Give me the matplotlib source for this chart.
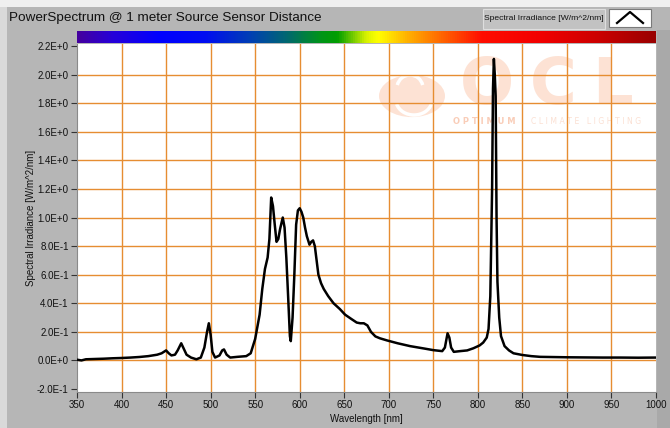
import numpy as np
import matplotlib.pyplot as plt
from matplotlib.colors import LinearSegmentedColormap
from matplotlib.patches import Rectangle, Circle, Arc
from matplotlib.lines import Line2D

# spectrum (wavelength in nm, irradiance in W/m^2/nm)
wavelength = [350, 355, 360, 370, 380, 390, 400, 410, 420, 430, 440, 445, 450, 453, 456,
              460, 463, 467, 470, 473, 478, 484, 489, 493, 496, 498, 500, 502, 505, 510,
              513, 515, 518, 522, 530, 540, 545, 550, 555, 558, 561, 564, 566, 568, 570,
              572, 574, 576, 578, 581, 583, 585, 587, 589, 590, 592, 594, 596, 598, 600,
              602, 604, 606, 608, 611, 613, 615, 617, 619, 621, 624, 627, 632, 638, 645,
              651, 658, 664, 668, 672, 676, 680, 685, 690, 698, 710, 724, 740, 750, 760,
              763, 766, 768, 770, 773, 780, 788, 795, 802, 806, 810, 812, 814, 816, 817,
              818, 819, 820, 821, 822, 824, 826, 830, 835, 840, 850, 860, 870, 880, 900,
              920, 940, 960, 980, 1000]
irradiance = [0.005, 0.0, 0.008, 0.01, 0.012, 0.015, 0.017, 0.02, 0.024, 0.03, 0.04, 0.05,
              0.07, 0.05, 0.035, 0.04, 0.07, 0.12, 0.08, 0.04, 0.02, 0.008, 0.02, 0.09, 0.2,
              0.26, 0.18, 0.06, 0.02, 0.035, 0.07, 0.077, 0.04, 0.02, 0.025, 0.03, 0.05, 0.15,
              0.32, 0.5, 0.64, 0.72, 0.85, 1.14, 1.08, 0.95, 0.83, 0.85, 0.92, 1.0, 0.93,
              0.72, 0.45, 0.17, 0.135, 0.3, 0.6, 0.95, 1.05, 1.065, 1.04, 1.0, 0.93, 0.87,
              0.81, 0.83, 0.84, 0.8, 0.7, 0.6, 0.54, 0.5, 0.45, 0.4, 0.36, 0.32, 0.29, 0.265,
              0.26, 0.26, 0.245, 0.2, 0.168, 0.155, 0.14, 0.12, 0.1, 0.083, 0.072, 0.065,
              0.09, 0.19, 0.16, 0.09, 0.06, 0.065, 0.07, 0.085, 0.105, 0.125, 0.16, 0.22,
              0.45, 1.2, 1.9, 2.11, 2.0, 1.85, 1.0, 0.55, 0.3, 0.17, 0.1, 0.07, 0.05, 0.038,
              0.03, 0.025, 0.024, 0.022, 0.021, 0.02, 0.02, 0.019, 0.02]

x_ticks = [350, 400, 450, 500, 550, 600, 650, 700, 750, 800, 850, 900, 950, 1000]
y_ticks = [-0.2, 0.0, 0.2, 0.4, 0.6, 0.8, 1.0, 1.2, 1.4, 1.6, 1.8, 2.0, 2.2]
y_tick_labels = ['-2.0E-1', '0.0E+0', '2.0E-1', '4.0E-1', '6.0E-1', '8.0E-1', '1.0E+0',
                 '1.2E+0', '1.4E+0', '1.6E+0', '1.8E+0', '2.0E+0', '2.2E+0']

FONT = ['Liberation Sans', 'DejaVu Sans']
W, H = 670, 428
PANEL = '#b6b6b6'
GRID = '#e68d32'


def fx(px):
    return px / W


def fy(py):
    return 1 - py / H


fig = plt.figure(figsize=(6.7, 4.28), dpi=100)
fig.patch.set_facecolor(PANEL)

# window chrome around the graph
fig.patches.append(Rectangle((0, fy(7)), 1, 7 / H, transform=fig.transFigure,
                             facecolor='#f0f0f0', edgecolor='none', zorder=-2))
fig.patches.append(Rectangle((0, 0), fx(7), fy(7), transform=fig.transFigure,
                             facecolor='#d9d9d9', edgecolor='none', zorder=-2))
fig.patches.append(Rectangle((fx(657), 0), 1 - fx(657), fy(30), transform=fig.transFigure,
                             facecolor='#a9a9a9', edgecolor='none', zorder=-2))

fig.text(fx(9), fy(18), 'PowerSpectrum @ 1 meter Source Sensor Distance', family=FONT,
         fontsize=9.7, color='#111111', va='center', ha='left')

# plot legend box
fig.patches.append(Rectangle((fx(483), fy(29)), fx(122), 20 / H, transform=fig.transFigure,
                             facecolor='#c2c2c2', edgecolor='#dedede', lw=0.8, zorder=1))
fig.text(fx(544), fy(18.5), 'Spectral Irradiance [W/m^2/nm]', family=FONT, fontsize=6.1,
         color='#111111', va='center', ha='center')
fig.patches.append(Rectangle((fx(609), fy(27)), fx(42), 18 / H, transform=fig.transFigure,
                             facecolor='white', edgecolor='#7a7a7a', lw=0.8, zorder=1))
fig.lines.append(Line2D([fx(617), fx(630), fx(643)], [fy(23), fy(12), fy(23)],
                        transform=fig.transFigure, color='black', lw=1.6))

# spectrum colour strip above the plot
spectrum = LinearSegmentedColormap.from_list('spec', [
    (0.00, (0.27, 0.0, 0.62)), (0.06, (0.15, 0.0, 0.85)), (0.14, (0.0, 0.0, 1.0)),
    (0.22, (0.0, 0.05, 0.95)), (0.30, (0.0, 0.25, 0.7)), (0.36, (0.0, 0.4, 0.45)),
    (0.42, (0.0, 0.58, 0.1)), (0.45, (0.0, 0.62, 0.0)), (0.50, (0.85, 0.95, 0.0)),
    (0.52, (1.0, 1.0, 0.0)), (0.57, (1.0, 0.7, 0.0)), (0.63, (1.0, 0.4, 0.0)),
    (0.70, (1.0, 0.05, 0.0)), (0.80, (0.95, 0.0, 0.0)), (0.90, (0.8, 0.0, 0.0)),
    (1.00, (0.6, 0.0, 0.0))])
cax = fig.add_axes([fx(77), fy(43), fx(579), 12 / H])
cax.imshow(np.linspace(0, 1, 512)[None, :], aspect='auto', cmap=spectrum)
cax.set_axis_off()

# main plot
ax = fig.add_axes([fx(77), fy(392), fx(579), (392 - 43.5) / H])
ax.set_facecolor('white')
ax.set_xlim(350, 1000)
ax.set_ylim(-0.221, 2.218)

for v in x_ticks[1:-1]:
    ax.axvline(v, color=GRID, lw=1.0, zorder=1)
for v in y_ticks[1:-1]:
    ax.axhline(v, color=GRID, lw=1.0, zorder=1)

ax.plot(wavelength, irradiance, color='black', lw=1.8, zorder=3, solid_joinstyle='round')

# faint OCL watermark behind the grid
wm = '#fde2d4'
ax.add_patch(Circle((fx(412), fy(96)), 33 / W, transform=fig.transFigure,
                    facecolor=wm, edgecolor='none', zorder=0.5))
ax.add_patch(Arc((fx(414), fy(100)), 36 / W, 30 / H, theta1=200, theta2=340,
                 transform=fig.transFigure, color='white', lw=2.5, zorder=0.6))
ax.add_patch(Arc((fx(410), fy(88)), 26 / W, 26 / H, theta1=20, theta2=160,
                 transform=fig.transFigure, color='white', lw=2.5, zorder=0.6))
for ch, px in zip('OCL', [487, 553, 612]):
    ax.text(fx(px), fy(86), ch, transform=fig.transFigure, family='DejaVu Sans',
            weight='bold', fontsize=46, color=wm, ha='center', va='center', zorder=0.5)
ax.text(fx(453), fy(121), 'O P T I M U M', transform=fig.transFigure, family='DejaVu Sans',
        weight='bold', fontsize=6.0, color='#f9cdb8', ha='left', va='center', zorder=0.5)
ax.text(fx(531), fy(121), 'C L I M A T E   L I G H T I N G', transform=fig.transFigure,
        family='DejaVu Sans', fontsize=5.6, color='#fbe0d3', ha='left', va='center', zorder=0.5)

ax.set_xticks(x_ticks)
ax.set_xticklabels([str(v) for v in x_ticks], family=FONT, fontsize=7, color='#111111')
ax.set_yticks(y_ticks)
ax.set_yticklabels(y_tick_labels, family=FONT, fontsize=7, color='#111111')
ax.tick_params(axis='both', direction='out', length=4, width=0.8, color='#333333', pad=2)

for side in ['top', 'right']:
    ax.spines[side].set_visible(False)
for side in ['left', 'bottom']:
    ax.spines[side].set_color('#8a8a8a')
    ax.spines[side].set_linewidth(0.8)

ax.set_xlabel('Wavelength [nm]', family=FONT, fontsize=7, color='#111111', va='center')
ax.xaxis.set_label_coords(0.5, -0.078)
ax.set_ylabel('Spectral Irradiance [W/m^2/nm]', family=FONT, fontsize=7, color='#111111',
              va='center')
ax.yaxis.set_label_coords(-0.08, 0.5)

fig.savefig('out.png', dpi=100, facecolor=fig.get_facecolor())
